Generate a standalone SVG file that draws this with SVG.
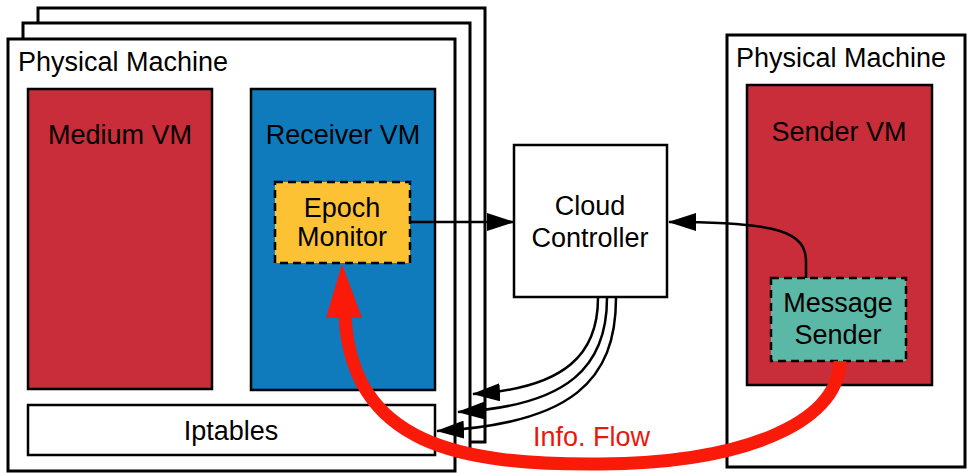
<svg xmlns="http://www.w3.org/2000/svg" width="967" height="473" viewBox="0 0 967 473">
  <defs>
    <style>
      .frame { fill: #ffffff; stroke: #000000; stroke-width: 3; }
      .vm-red { fill: #C92D39; stroke: #000000; stroke-width: 2.5; }
      .vm-blue { fill: #0F7BBD; stroke: #000000; stroke-width: 2.5; }
      .box { fill: #ffffff; stroke: #000000; stroke-width: 2.5; }
      .proc-yellow { fill: #FDC134; stroke: #000000; stroke-width: 2.5; stroke-dasharray: 8 5; }
      .proc-teal { fill: #5CB8A6; stroke: #000000; stroke-width: 2.5; stroke-dasharray: 8 5; }
      .label { font-family: "Liberation Sans", Arial, Helvetica, sans-serif; font-size: 27px; fill: #000000; }
      .mid { text-anchor: middle; }
      .link { fill: none; stroke: #000000; stroke-width: 2.5; }
      .flow { fill: none; stroke: #F91A09; stroke-width: 13; }
      .flow-label { font-family: "Liberation Sans", Arial, Helvetica, sans-serif; font-size: 27px; fill: #E8180C; }
    </style>
    <marker id="arrow" markerUnits="userSpaceOnUse" markerWidth="28" markerHeight="18" refX="27" refY="9" orient="auto">
      <path d="M0,0 L28,9 L0,18 z" fill="#000000"/>
    </marker>
  </defs>

  <!-- stacked physical machines (receiver side) -->
  <g id="pm-back">
    <rect class="frame" x="38" y="8" width="447" height="434"/>
  </g>
  <g id="pm-middle">
    <rect class="frame" x="23" y="23" width="447" height="433"/>
  </g>
  <g id="pm-front">
    <rect class="frame" x="8" y="39" width="447" height="432"/>
    <text class="label" x="18" y="71">Physical Machine</text>
  </g>

  <g id="medium-vm">
    <rect class="vm-red" x="28" y="89" width="184" height="300"/>
    <text class="label mid" x="120" y="144">Medium VM</text>
  </g>

  <g id="receiver-vm">
    <rect class="vm-blue" x="251" y="89" width="184" height="301"/>
    <text class="label mid" x="343" y="144">Receiver VM</text>
  </g>

  <g id="epoch-monitor">
    <rect class="proc-yellow" x="275" y="182" width="135" height="81"/>
    <text class="label mid" x="342" y="217">Epoch</text>
    <text class="label mid" x="342" y="246">Monitor</text>
  </g>

  <g id="iptables">
    <rect class="box" x="28" y="405" width="407" height="50"/>
    <text class="label mid" x="231" y="440">Iptables</text>
  </g>

  <g id="cloud-controller">
    <rect class="box" x="514" y="145" width="153" height="152"/>
    <text class="label mid" x="590" y="215">Cloud</text>
    <text class="label mid" x="590" y="247">Controller</text>
  </g>

  <!-- sender side physical machine -->
  <g id="pm-sender">
    <rect class="frame" x="727" y="35" width="238" height="432"/>
    <text class="label" x="736" y="67">Physical Machine</text>
  </g>

  <g id="sender-vm">
    <rect class="vm-red" x="747" y="85" width="185" height="300"/>
    <text class="label mid" x="839" y="141">Sender VM</text>
  </g>

  <g id="message-sender">
    <rect class="proc-teal" x="771" y="278" width="135" height="83"/>
    <text class="label mid" x="838" y="312">Message</text>
    <text class="label mid" x="838" y="344">Sender</text>
  </g>

  <!-- connectors -->
  <g id="connectors">
    <path class="link" d="M410,222 L514,222" marker-end="url(#arrow)"/>
    <path class="link" d="M806,278 L806,262 C806,232 780,222 669,222" marker-end="url(#arrow)"/>
    <path class="link" d="M598,298 C598,352 568,388 473,394" marker-end="url(#arrow)"/>
    <path class="link" d="M607,298 C607,365 570,406 458,412" marker-end="url(#arrow)"/>
    <path class="link" d="M616,298 C616,380 572,424 437,431" marker-end="url(#arrow)"/>

    <!-- information flow from sender to receiver -->
    <path class="flow" d="M840,361 C838,425 740,463 600,464 C460,465 352,445 345,316"/>
    <polygon points="342,264 362,318 326,318" fill="#F91A09"/>
    <text class="flow-label" x="533" y="446">Info. Flow</text>
  </g>
</svg>
